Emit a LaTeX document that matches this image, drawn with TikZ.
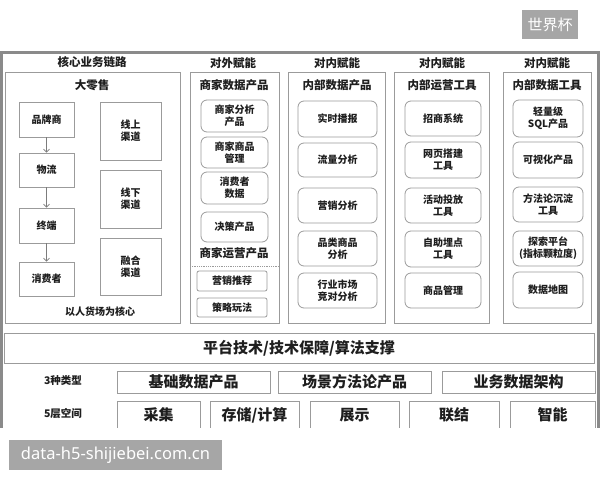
\documentclass[tikz,border=0pt]{standalone}
\usepackage{fontspec}
\setmainfont{Noto Sans CJK SC}
\newfontfamily\latinsans{Noto Sans}
\usetikzlibrary{arrows.meta}
\definecolor{txt}{HTML}{1E1E1E}
\definecolor{edge}{HTML}{9B9B9B}
\definecolor{frm}{HTML}{8A8A8A}
\definecolor{wm}{HTML}{A6A6A6}
\tikzset{
  sq/.style={draw=edge, line width=0.8pt, text=txt, inner sep=1pt, align=center,
     font=\fontsize{10}{12}\selectfont\bfseries},
  rbox/.style={sq, rounded corners=6pt},
  sbox/.style={sq, rounded corners=2pt},
  panel/.style={draw=edge, line width=0.8pt},
  ttl/.style={text=txt, font=\fontsize{11.5}{13}\selectfont\bfseries, inner sep=0pt},
  hdr/.style={text=txt, font=\fontsize{11.5}{13}\selectfont\bfseries, inner sep=0pt},
  big/.style={sq, font=\fontsize{15}{17}\selectfont\bfseries},
  lbl/.style={text=txt, font=\fontsize{10.5}{12}\selectfont\bfseries, inner sep=0pt},
  arr/.style={draw=edge!80!black, line width=0.7pt, -{Straight Barb[length=3pt,width=6pt]}},
  wmk/.style={fill=wm, text=white, inner sep=0pt}
}
\begin{document}
\begin{tikzpicture}[x=1pt,y=-1pt]
\useasboundingbox (0,0) rectangle (600,480);
\fill[white] (0,0) rectangle (600,480);

% watermarks
\node[wmk, minimum width=56pt, minimum height=29pt, font=\fontsize{15}{17}\selectfont] (wm1) at (550,24.5) {世界杯};
\node[wmk, minimum width=213pt, minimum height=30pt, font=\latinsans\fontsize{16.5}{18}\selectfont] (wm2) at (115.5,455) {data-h5-shijiebei.com.cn};

\begin{scope}
\clip (0,0) rectangle (600,427);
% outer frame
\draw[frm, line width=3pt] (1.5,440) -- (1.5,52) -- (598.5,52) -- (598.5,440);

% titles
\node[ttl] (t1) at (92,62) {核心业务链路};
\node[ttl] (t2) at (233,63) {对外赋能};
\node[ttl] (t3) at (337,63) {对内赋能};
\node[ttl] (t4) at (442,63) {对内赋能};
\node[ttl] (t5) at (547,63) {对内赋能};

% panels
\node[panel, minimum width=175pt, minimum height=251pt] (p1) at (92.5,197.5) {};
\node[panel, minimum width=89pt, minimum height=251pt] (p2) at (234.5,197.5) {};
\node[panel, minimum width=97pt, minimum height=251pt] (p3) at (336.5,197.5) {};
\node[panel, minimum width=95pt, minimum height=251pt] (p4) at (441.5,197.5) {};
\node[panel, minimum width=88pt, minimum height=251pt] (p5) at (547,197.5) {};

% panel headings
\node[hdr] (h1) at (92,85) {大零售};
\node[hdr] (h2) at (234,85) {商家数据产品};
\node[hdr] (h3) at (337,85) {内部数据产品};
\node[hdr] (h4) at (442,85) {内部运营工具};
\node[hdr] (h5) at (547,85) {内部数据工具};

% panel 1
\node[sq, minimum width=55pt, minimum height=35pt] (a1) at (46.5,119.5) {品牌商};
\node[sq, minimum width=55pt, minimum height=34pt] (a2) at (46.5,170) {物流};
\node[sq, minimum width=55pt, minimum height=35pt] (a3) at (46.5,225.5) {终端};
\node[sq, minimum width=55pt, minimum height=34pt] (a4) at (46.5,279) {消费者};
\draw[arr] (a1) -- (a2);
\draw[arr] (a2) -- (a3);
\draw[arr] (a3) -- (a4);
\node[sq, minimum width=61pt, minimum height=58pt] (b1) at (130.5,131) {线上\\渠道};
\node[sq, minimum width=61pt, minimum height=58pt] (b2) at (130.5,199) {线下\\渠道};
\node[sq, minimum width=61pt, minimum height=57pt] (b3) at (130.5,266.5) {融合\\渠道};
\node[lbl, font=\fontsize{10}{12}\selectfont\bfseries] (core) at (100,312) {以人货场为核心};

% panel 2
\node[rbox, minimum width=67pt, minimum height=32pt] (c1) at (234.5,116) {商家分析\\产品};
\node[rbox, minimum width=67pt, minimum height=31pt] (c2) at (234.5,152.5) {商家商品\\管理};
\node[rbox, minimum width=67pt, minimum height=32pt] (c3) at (234.5,188) {消费者\\数据};
\node[rbox, minimum width=67pt, minimum height=30pt] (c4) at (234.5,227) {决策产品};
\node[hdr] (h2b) at (234,253) {商家运营产品};
\coordinate (dl) at (190,266);
\coordinate (dr) at (279,266);
\draw[edge, line width=0.8pt, densely dotted] (dl) -- (dr);
\node[sbox, minimum width=70pt, minimum height=20pt] (c5) at (232,281) {营销推荐};
\node[sbox, minimum width=70pt, minimum height=19pt] (c6) at (232,307.5) {策略玩法};

% panel 3
\node[rbox, minimum width=79pt, minimum height=36pt] (d1) at (337.5,119) {实时播报};
\node[rbox, minimum width=79pt, minimum height=34pt] (d2) at (337.5,160) {流量分析};
\node[rbox, minimum width=79pt, minimum height=35pt] (d3) at (337.5,205.5) {营销分析};
\node[rbox, minimum width=79pt, minimum height=35pt] (d4) at (337.5,248.5) {品类商品\\分析};
\node[rbox, minimum width=79pt, minimum height=35pt] (d5) at (337.5,290.5) {行业市场\\竞对分析};

% panel 4
\node[rbox, minimum width=76pt, minimum height=35pt] (e1) at (443,118.5) {招商系统};
\node[rbox, minimum width=76pt, minimum height=36pt] (e2) at (443,160) {网页搭建\\工具};
\node[rbox, minimum width=76pt, minimum height=35pt] (e3) at (443,205.5) {活动投放\\工具};
\node[rbox, minimum width=76pt, minimum height=36pt] (e4) at (443,249) {自助埋点\\工具};
\node[rbox, minimum width=76pt, minimum height=35pt] (e5) at (443,290.5) {商品管理};

% panel 5
\node[rbox, minimum width=70pt, minimum height=37pt] (f1) at (548,118.5) {轻量级\\SQL产品};
\node[rbox, minimum width=70pt, minimum height=36pt] (f2) at (548,160) {可视化产品};
\node[rbox, minimum width=70pt, minimum height=35pt] (f3) at (548,204.5) {方法论沉淀\\工具};
\node[rbox, minimum width=70pt, minimum height=35pt] (f4) at (548,248.5) {探索平台\\(指标颗粒度)};
\node[rbox, minimum width=70pt, minimum height=36pt] (f5) at (548,290) {数据地图};

% platform
\node[big, minimum width=590pt, minimum height=30pt] (plat) at (299,348) {平台技术/技术保障/算法支撑};

% 3 types
\node[lbl] (l3) at (63,381) {3种类型};
\node[big, minimum width=153pt, minimum height=22pt] (g1) at (193.5,382) {基础数据产品};
\node[big, minimum width=153pt, minimum height=22pt] (g2) at (354.5,382) {场景方法论产品};
\node[big, minimum width=153pt, minimum height=22pt] (g3) at (518.5,382) {业务数据架构};

% 5 layers
\node[lbl] (l5) at (63,414) {5层空间};
\node[big, minimum width=83pt, minimum height=28pt] (k1) at (158.5,415) {采集};
\node[big, minimum width=89pt, minimum height=28pt] (k2) at (254.5,415) {存储/计算};
\node[big, minimum width=89pt, minimum height=28pt] (k3) at (354.5,415) {展示};
\node[big, minimum width=90pt, minimum height=28pt] (k4) at (454,415) {联结};
\node[big, minimum width=85pt, minimum height=28pt] (k5) at (552.5,415) {智能};
\end{scope}
\end{tikzpicture}
\end{document}
